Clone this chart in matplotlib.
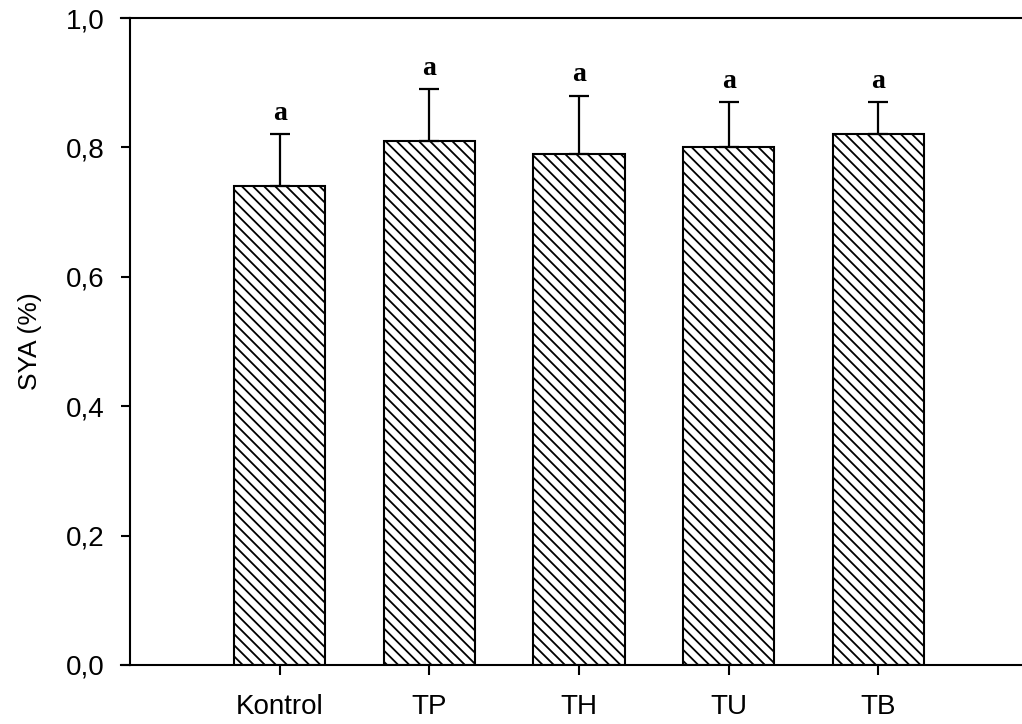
import matplotlib
matplotlib.use('Agg')
import matplotlib.pyplot as plt

groups = ['Kontrol', 'TP', 'TH', 'TU', 'TB']
means = [0.74, 0.81, 0.79, 0.80, 0.82]
errors = [0.08, 0.08, 0.09, 0.07, 0.05]
letters = ['a', 'a', 'a', 'a', 'a']
yticks = [0.0, 0.2, 0.4, 0.6, 0.8, 1.0]
ytick_labels = ['0,0', '0,2', '0,4', '0,6', '0,8', '1,0']

plt.rcParams['font.family'] = 'Liberation Sans'
plt.rcParams['hatch.linewidth'] = 1.3

fig = plt.figure(figsize=(10.22, 7.24), dpi=100)
ax = fig.add_axes([130 / 1022, 59 / 724, 898 / 1022, 647 / 724])

x = list(range(len(groups)))
ax.bar(x, means, width=0.61, color='white', edgecolor='black',
       linewidth=1.5, hatch='\\\\\\')
ax.errorbar(x, means, yerr=[[0] * len(errors), errors], fmt='none',
            ecolor='black', elinewidth=1.6, capsize=7.5, capthick=1.6)

for xi, m, e, lab in zip(x, means, errors, letters):
    ax.text(xi, m + e + 0.022, lab, ha='center', va='baseline',
            fontsize=20, fontweight='bold', family='Liberation Serif')

ax.set_xlim(-1, 5)
ax.set_ylim(0, 1.0)
ax.set_xticks(x)
ax.set_xticklabels(groups)
ax.set_yticks(yticks)
ax.set_yticklabels(ytick_labels)
ax.set_ylabel('SYA (%)', fontsize=19, labelpad=17)

ax.spines['right'].set_visible(False)
for s in ['left', 'bottom', 'top']:
    ax.spines[s].set_linewidth(1.5)
ax.tick_params(axis='y', direction='out', length=6.5, width=1.5,
               labelsize=20, pad=12)
ax.tick_params(axis='x', direction='out', length=7, width=1.5,
               labelsize=20, pad=14)

# extend the 0 and 1 lines out to the tick ends like the original
ax.plot([-1.06, -1], [0, 0], color='black', lw=1.5, clip_on=False)
ax.plot([-1.06, -1], [1, 1], color='black', lw=1.5, clip_on=False)

plt.savefig('out.png', dpi=100)
